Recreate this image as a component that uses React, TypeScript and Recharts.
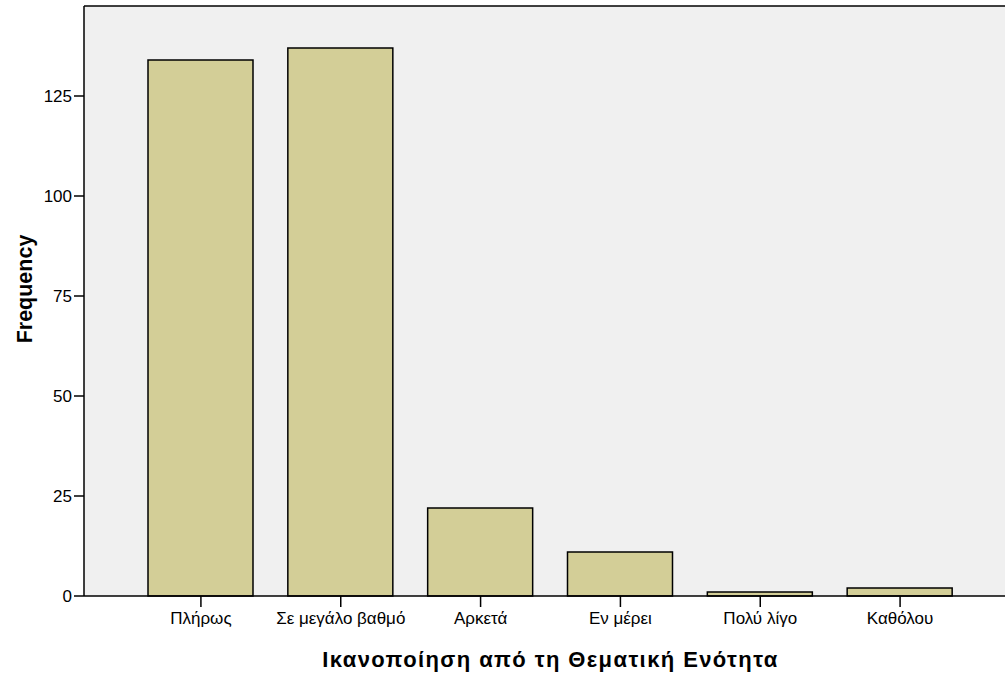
import React from 'react';
import { ComposedChart, Bar, XAxis, YAxis, CartesianGrid, ReferenceLine, Label } from 'recharts';

const categories = ['Πλήρως', 'Σε μεγάλο βαθμό', 'Αρκετά', 'Εν μέρει', 'Πολύ λίγο', 'Καθόλου'];
const frequencies = [134, 137, 22, 11, 1, 2];
const yTicks = [0, 25, 50, 75, 100, 125];
const yMax = 147.5;
const xTitle = 'Ικανοποίηση από τη Θεματική Ενότητα';
const yTitle = 'Frequency';

const FONT = "Arial, 'Liberation Sans', Helvetica, sans-serif";

const data = categories.map((c, i) => ({ category: c, frequency: frequencies[i] }));

const XTitle = (props: any) => {
  const vb = props.viewBox || {};
  return (
    <text x={vb.x + vb.width / 2} y={667} textAnchor="middle" fontFamily={FONT} fontWeight="bold" fontSize={22} letterSpacing={1.4} fill="#000">
      {xTitle}
    </text>
  );
};

const YTitle = (props: any) => {
  const vb = props.viewBox || {};
  const cx = 32;
  const cy = vb.y + vb.height / 2 - 12;
  return (
    <text x={cx} y={cy} transform={`rotate(-90, ${cx}, ${cy})`} textAnchor="middle" fontFamily={FONT} fontWeight="bold" fontSize={21.5} fill="#000">
      {yTitle}
    </text>
  );
};

export default function App() {
  return (
    <div style={{ position: 'fixed', left: 0, top: 0, width: 1005, height: 676, overflow: 'hidden', background: '#fff' }}>
      <ComposedChart width={1040} height={676} data={data} margin={{ top: 6, right: 23, bottom: 0, left: 0 }}>
        <CartesianGrid horizontal={false} vertical={false} fill="#F0F0F0" />
        <XAxis
          dataKey="category"
          height={80}
          padding={{ left: 47, right: 47 }}
          interval={0}
          tickSize={11}
          tickMargin={5}
          tick={{ fill: '#000', fontSize: 17, fontFamily: FONT }}
          axisLine={{ stroke: '#000', strokeWidth: 1.5 }}
          tickLine={{ stroke: '#000', strokeWidth: 1.5 }}
        >
          <Label content={XTitle} />
        </XAxis>
        <YAxis
          width={84}
          domain={[0, yMax]}
          ticks={yTicks}
          interval={0}
          tickSize={10}
          tickMargin={2}
          tick={{ fill: '#000', fontSize: 17, fontFamily: FONT }}
          axisLine={{ stroke: '#000', strokeWidth: 1.5 }}
          tickLine={{ stroke: '#000', strokeWidth: 1.5 }}
        >
          <Label content={YTitle} />
        </YAxis>
        <ReferenceLine y={yMax} stroke="#000" strokeWidth={1.5} />
        <Bar dataKey="frequency" fill="#D3CE97" stroke="#000" strokeWidth={1.5} barSize={105} isAnimationActive={false} />
      </ComposedChart>
    </div>
  );
}
